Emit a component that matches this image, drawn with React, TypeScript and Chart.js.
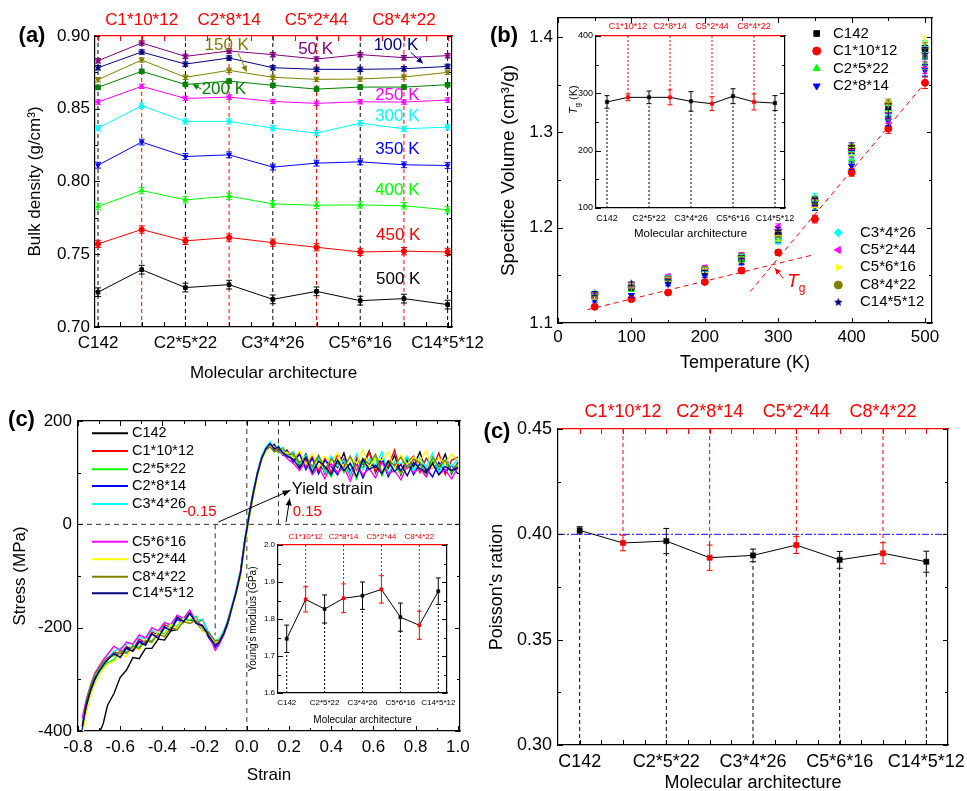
import React, { useEffect, useRef } from 'react';
import { Chart, registerables } from 'chart.js';
import { drawPoint } from 'chart.js/helpers';

Chart.register(...registerables);

const W = 967;
const H = 791;
const FONT = "'Liberation Sans', Arial, Helvetica, sans-serif";
const f = (size: number, style = '') => `${style} ${size}px ${FONT}`.trim();

const BLACK = '#000000', RED = '#ff0000', LIME = '#00ff00', GREEN = '#008000', BLUE = '#0000ff',
  CYAN = '#00ffff', MAGENTA = '#ff00ff', YELLOW = '#ffff00', OLIVE = '#808000', NAVY = '#000080',
  PURPLE = '#800080', DASH_GREY = '#333333', REF_BLUE = '#4040ff';

// ---------------- shared categories ----------------
const ARCH = ['C142', 'C1*10*12', 'C2*5*22', 'C2*8*14', 'C3*4*26', 'C5*2*44', 'C5*6*16', 'C8*4*22', 'C14*5*12'];
const ARCH_POS = [0, 1, 2, 3, 4, 5, 6, 7, 8];
const ARCH_BOTTOM = [0, 2, 4, 6, 8];
const ARCH_TOP = [1, 3, 5, 7];
const HALF_TICKS = [0, 0.5, 1, 1.5, 2, 2.5, 3, 3.5, 4, 4.5, 5, 5.5, 6, 6.5, 7, 7.5, 8];

// ---------------- (a) bulk density ----------------
const TEMP_LABELS_A = ['50 K', '100 K', '150 K', '200 K', '250 K', '300 K', '350 K', '400 K', '450 K', '500 K'];
const DENS_50K = [0.8830, 0.8952, 0.8860, 0.8897, 0.8872, 0.8842, 0.8872, 0.8851, 0.8865];
const DENS_100K = [0.8782, 0.8890, 0.8807, 0.8849, 0.8782, 0.8771, 0.8771, 0.8775, 0.8791];
const DENS_150K = [0.8700, 0.8835, 0.8716, 0.8764, 0.8716, 0.8702, 0.8704, 0.8718, 0.8750];
const DENS_200K = [0.8647, 0.8757, 0.8667, 0.8690, 0.8661, 0.8635, 0.8649, 0.8649, 0.8665];
const DENS_250K = [0.8546, 0.8654, 0.8571, 0.8580, 0.8550, 0.8537, 0.8548, 0.8546, 0.8560];
const DENS_300K = [0.8367, 0.8521, 0.8413, 0.8413, 0.8367, 0.8333, 0.8401, 0.8362, 0.8374];
const DENS_350K = [0.8112, 0.8271, 0.8172, 0.8183, 0.8099, 0.8126, 0.8135, 0.8115, 0.8110];
const DENS_400K = [0.7828, 0.7938, 0.7874, 0.7899, 0.7846, 0.7837, 0.7839, 0.7833, 0.7805];
const DENS_450K = [0.7571, 0.7670, 0.7592, 0.7615, 0.7580, 0.7548, 0.7516, 0.7521, 0.7516];
const DENS_500K = [0.7239, 0.7394, 0.7271, 0.7291, 0.7190, 0.7245, 0.7181, 0.7195, 0.7154];
const DENS_ERR = [0.0015, 0.0015, 0.0015, 0.0015, 0.0015, 0.0018, 0.002, 0.0022, 0.0025, 0.003];
const DENS_Y_TICKS = [0.70, 0.75, 0.80, 0.85, 0.90];
const DENS_Y_MINOR = [0.725, 0.775, 0.825, 0.875];

// ---------------- (b) specific volume ----------------
const TEMPS_B = [50, 100, 150, 200, 250, 300, 350, 400, 450, 500];
const SV_C142 = [1.130, 1.137, 1.147, 1.155, 1.168, 1.195, 1.228, 1.282, 1.325, 1.385];
const SV_C1_10_12 = [1.117, 1.125, 1.132, 1.143, 1.155, 1.174, 1.209, 1.258, 1.304, 1.352];
const SV_C2_5_22 = [1.128, 1.135, 1.145, 1.154, 1.167, 1.188, 1.223, 1.272, 1.318, 1.372];
const SV_C2_8_14 = [1.124, 1.129, 1.141, 1.150, 1.164, 1.187, 1.222, 1.265, 1.312, 1.365];
const SV_C3_4_26 = [1.131, 1.138, 1.148, 1.156, 1.169, 1.186, 1.232, 1.276, 1.323, 1.390];
const SV_C5_2_44 = [1.129, 1.139, 1.149, 1.158, 1.171, 1.201, 1.226, 1.278, 1.315, 1.368];
const SV_C5_6_16 = [1.127, 1.140, 1.146, 1.155, 1.166, 1.189, 1.225, 1.280, 1.327, 1.395];
const SV_C8_4_22 = [1.130, 1.138, 1.147, 1.157, 1.170, 1.193, 1.229, 1.283, 1.330, 1.388];
const SV_C14_5_12 = [1.131, 1.141, 1.144, 1.153, 1.165, 1.197, 1.227, 1.285, 1.320, 1.383];
const SV_ERR = [0.002, 0.002, 0.002, 0.002, 0.003, 0.003, 0.004, 0.004, 0.005, 0.006];
const TEMP_TICKS = [0, 100, 200, 300, 400, 500];
const TEMP_MINOR = [50, 150, 250, 350, 450];
const SV_TICKS = [1.1, 1.2, 1.3, 1.4];
const SV_MINOR = [1.15, 1.25, 1.35];
const FIT_GLASS_T = [40, 345];
const FIT_GLASS_V = [1.114, 1.171];
const FIT_RUBBER_T = [262, 500];
const FIT_RUBBER_V = [1.133, 1.352];
const TG = [285, 293, 293, 293, 286, 282, 295, 285, 283];
const TG_ERR = [11, 6, 11, 13, 17, 12, 13, 14, 13];
const TG_TICKS = [100, 200, 300, 400];
const TG_MINOR = [150, 250, 350];

// ---------------- (c) stress-strain ----------------
const STRAIN = [-0.78, -0.76, -0.74, -0.72, -0.70, -0.68, -0.66, -0.63, -0.60, -0.57, -0.54, -0.51, -0.48, -0.45, -0.42, -0.39, -0.36, -0.33, -0.30, -0.27, -0.24, -0.21, -0.18, -0.15, -0.13, -0.11, -0.09, -0.07, -0.05, -0.03, -0.01, 0.01, 0.03, 0.05, 0.07, 0.09, 0.11, 0.13, 0.15, 0.17, 0.19, 0.22, 0.25, 0.28, 0.31, 0.34, 0.37, 0.40, 0.43, 0.46, 0.49, 0.52, 0.55, 0.58, 0.61, 0.64, 0.67, 0.70, 0.73, 0.76, 0.79, 0.82, 0.85, 0.88, 0.91, 0.94, 0.97, 1.00];
const SS_C142 = [-470, -455, -440, -425, -405, -385, -350, -328, -296, -282, -258, -260, -240, -240, -222, -224, -206, -204, -184, -186, -188, -206, -212, -226, -222, -210, -186, -158, -128, -92, -30, 18, 62, 96, 130, 147, 150, 155, 140, 148, 132, 140, 112, 136, 104, 130, 98, 128, 110, 138, 96, 126, 116, 142, 100, 124, 108, 134, 96, 130, 112, 140, 102, 122, 106, 136, 98, 120];
const SS_C1_10_12 = [-400, -355, -318, -298, -282, -270, -262, -246, -252, -236, -242, -222, -230, -208, -214, -194, -200, -178, -184, -170, -192, -184, -212, -228, -224, -214, -192, -162, -130, -98, -38, 12, 58, 100, 126, 148, 158, 142, 152, 136, 144, 124, 138, 112, 132, 104, 128, 100, 136, 118, 94, 130, 108, 140, 102, 126, 112, 144, 98, 120, 132, 100, 128, 110, 138, 96, 124, 130];
const SS_C2_5_22 = [-405, -360, -325, -302, -288, -276, -268, -262, -244, -248, -234, -238, -222, -226, -208, -212, -194, -198, -180, -186, -178, -204, -208, -232, -228, -210, -188, -158, -134, -92, -32, 18, 62, 96, 128, 142, 152, 146, 138, 148, 130, 132, 116, 128, 104, 124, 110, 92, 126, 100, 118, 88, 122, 106, 130, 94, 120, 112, 98, 128, 104, 116, 92, 124, 108, 120, 100, 114];
const SS_C2_8_14 = [-398, -352, -322, -300, -284, -272, -262, -250, -256, -238, -244, -226, -230, -212, -220, -200, -204, -184, -190, -172, -190, -196, -220, -238, -230, -214, -192, -160, -128, -96, -36, 14, 60, 100, 130, 146, 154, 144, 150, 134, 142, 120, 136, 106, 128, 98, 124, 112, 96, 126, 104, 120, 90, 118, 110, 128, 92, 116, 104, 124, 96, 118, 108, 92, 120, 102, 114, 98];
const SS_C3_4_26 = [-385, -345, -318, -296, -283, -268, -258, -246, -240, -232, -230, -218, -222, -204, -212, -190, -198, -176, -184, -166, -186, -184, -210, -225, -222, -206, -186, -156, -124, -88, -30, 20, 64, 102, 132, 150, 160, 148, 152, 140, 130, 140, 118, 134, 108, 128, 100, 132, 112, 124, 96, 136, 106, 126, 114, 140, 98, 122, 116, 132, 102, 128, 110, 138, 100, 124, 112, 126];
const SS_C5_6_16 = [-375, -338, -312, -288, -275, -262, -252, -236, -244, -228, -232, -214, -220, -200, -206, -190, -194, -176, -182, -166, -190, -198, -214, -244, -232, -212, -188, -160, -128, -92, -34, 16, 60, 98, 128, 144, 156, 148, 142, 136, 128, 118, 104, 124, 96, 112, 88, 118, 100, 110, 84, 116, 96, 108, 90, 120, 98, 104, 86, 114, 100, 108, 92, 118, 96, 106, 88, 110];
const SS_C5_2_44 = [-410, -365, -332, -310, -292, -280, -270, -266, -252, -256, -238, -244, -222, -230, -208, -216, -194, -202, -182, -192, -184, -206, -214, -228, -224, -212, -190, -164, -136, -100, -42, 8, 52, 92, 124, 140, 152, 146, 150, 136, 140, 128, 142, 116, 136, 110, 132, 120, 138, 106, 130, 118, 144, 112, 128, 124, 140, 108, 134, 116, 130, 122, 142, 110, 128, 118, 136, 124];
const SS_C8_4_22 = [-390, -340, -310, -290, -278, -266, -258, -254, -246, -250, -236, -240, -225, -228, -212, -218, -200, -204, -188, -192, -186, -200, -210, -226, -224, -210, -188, -160, -132, -96, -36, 12, 56, 96, 126, 144, 150, 140, 148, 138, 134, 136, 120, 130, 112, 134, 106, 126, 118, 110, 132, 104, 128, 116, 136, 100, 124, 114, 130, 108, 126, 120, 98, 130, 112, 124, 104, 118];
const SS_C14_5_12 = [-392, -348, -320, -298, -284, -272, -262, -250, -258, -240, -246, -228, -234, -212, -220, -198, -206, -180, -188, -172, -192, -196, -216, -234, -228, -212, -190, -160, -130, -94, -34, 16, 60, 98, 128, 146, 156, 146, 150, 138, 132, 126, 108, 130, 100, 122, 112, 96, 124, 104, 118, 92, 126, 106, 114, 98, 122, 102, 116, 94, 120, 108, 100, 118, 96, 112, 104, 110];
const STRAIN_TICKS = [-0.8, -0.6, -0.4, -0.2, 0, 0.2, 0.4, 0.6, 0.8, 1.0];
const STRAIN_MINOR = [-0.7, -0.5, -0.3, -0.1, 0.1, 0.3, 0.5, 0.7, 0.9];
const STRESS_TICKS = [-400, -200, 0, 200];
const STRESS_MINOR = [-300, -100, 100];
const YM = [1.7465, 1.853, 1.827, 1.856, 1.863, 1.880, 1.805, 1.783, 1.875];
const YM_ERR = [0.037, 0.034, 0.038, 0.039, 0.037, 0.037, 0.038, 0.038, 0.036];
const YM_TICKS = [1.6, 1.7, 1.8, 1.9, 2.0];
const YM_MINOR = [1.65, 1.75, 1.85, 1.95];

// ---------------- (d) Poisson's ratio ----------------
const PR = [0.4019, 0.3959, 0.3968, 0.3889, 0.3900, 0.3949, 0.3879, 0.3910, 0.3870];
const PR_ERR = [0.0017, 0.0037, 0.006, 0.006, 0.003, 0.004, 0.004, 0.005, 0.005];
const PR_TICKS = [0.30, 0.35, 0.40, 0.45];
const PR_MINOR = [0.325, 0.375, 0.425];
const PR_REF = 0.40;

// ---------------- helpers ----------------
const pts = (xs: number[], ys: number[]) => xs.map((x, i) => ({ x, y: ys[i] }));
const archLbl = (v: number) => ARCH[Math.round(v)];
const parity = (a: string, b: string) => ARCH_POS.map((i) => (i % 2 ? b : a));

function starImg(color: string, r: number) {
  const c = document.createElement('canvas');
  const s = Math.ceil(r * 2 + 2);
  c.width = s; c.height = s;
  const g = c.getContext('2d') as CanvasRenderingContext2D;
  g.fillStyle = color;
  g.beginPath();
  for (let k = 0; k < 10; k++) {
    const a = -Math.PI / 2 + (k * Math.PI) / 5;
    const rr = k % 2 ? r * 0.45 : r;
    g.lineTo(s / 2 + rr * Math.cos(a), s / 2 + rr * Math.sin(a));
  }
  g.closePath();
  g.fill();
  return c;
}

// linear axis whose box size (boxPx) is fixed, so the plot area lands exactly where wanted
function lin(position: string, min: number, max: number, o: any = {}) {
  const has = !!o.vals;
  const box = o.box ?? 0;
  return {
    type: 'linear', position, min, max, boxPx: box,
    grid: { display: false, drawTicks: false },
    border: { display: true, color: o.border || BLACK, width: 1.2 },
    ticks: {
      display: has, autoSkip: false, maxRotation: 0, minRotation: 0,
      padding: o.pad ?? 5, color: o.color || BLACK,
      font: { family: FONT, size: o.size || 17 },
      callback: (v: number) => (o.fmt ? o.fmt(v) : String(v)),
    },
    afterBuildTicks: has ? (s: any) => { s.ticks = o.vals.map((v: number) => ({ value: v })); } : undefined,
    afterFit: (s: any) => {
      if (s.isHorizontal()) s.height = box; else s.width = box;
      s.paddingLeft = 0; s.paddingRight = 0; s.paddingTop = 0; s.paddingBottom = 0;
    },
  };
}

function posOf(chart: any, it: any): [number, number] {
  const ca = chart.chartArea;
  if (it.ax !== undefined) {
    return [ca.left + it.ax * (ca.right - ca.left) + (it.ox || 0), ca.top + it.ay * (ca.bottom - ca.top) + (it.oy || 0)];
  }
  return [chart.scales.x.getPixelForValue(it.x) + (it.ox || 0), chart.scales.y.getPixelForValue(it.y) + (it.oy || 0)];
}

function drawItems(chart: any, items: any[]) {
  const ctx = chart.ctx;
  const xs = chart.scales.x, ys = chart.scales.y;
  for (const it of items) {
    ctx.save();
    if (it.k === 'line') {
      const x0 = xs.getPixelForValue(it.x0), y0 = ys.getPixelForValue(it.y0);
      const x1 = xs.getPixelForValue(it.x1), y1 = ys.getPixelForValue(it.y1);
      ctx.strokeStyle = it.color; ctx.lineWidth = it.w || 1; ctx.setLineDash(it.dash || []);
      ctx.beginPath(); ctx.moveTo(x0, y0); ctx.lineTo(x1, y1); ctx.stroke();
      if (it.arrow) {
        const a = Math.atan2(y1 - y0, x1 - x0);
        const L = it.head || 7, hw = it.headW || 3;
        ctx.setLineDash([]); ctx.fillStyle = it.color; ctx.beginPath();
        ctx.moveTo(x1, y1);
        ctx.lineTo(x1 - L * Math.cos(a) + hw * Math.sin(a), y1 - L * Math.sin(a) - hw * Math.cos(a));
        ctx.lineTo(x1 - L * Math.cos(a) - hw * Math.sin(a), y1 - L * Math.sin(a) + hw * Math.cos(a));
        ctx.closePath(); ctx.fill();
      }
    } else if (it.k === 'text') {
      const [x, y] = posOf(chart, it);
      ctx.translate(x, y);
      if (it.rot) ctx.rotate((it.rot * Math.PI) / 180);
      ctx.font = it.font; ctx.fillStyle = it.color || BLACK;
      ctx.textAlign = it.align || 'center'; ctx.textBaseline = it.base || 'middle';
      ctx.fillText(it.s, 0, 0);
    } else if (it.k === 'rich') {
      const [x, y] = posOf(chart, it);
      ctx.translate(x, y);
      if (it.rot) ctx.rotate((it.rot * Math.PI) / 180);
      ctx.fillStyle = it.color || BLACK; ctx.textAlign = 'left'; ctx.textBaseline = 'alphabetic';
      let total = 0;
      for (const sg of it.segs) { ctx.font = sg.font; total += ctx.measureText(sg.s).width; }
      let cx = it.align === 'left' ? 0 : -total / 2;
      for (const sg of it.segs) {
        ctx.font = sg.font;
        ctx.fillText(sg.s, cx, (it.bl || 0) + (sg.dy || 0));
        cx += ctx.measureText(sg.s).width;
      }
    } else if (it.k === 'legLine') {
      const [x, y] = posOf(chart, it);
      ctx.strokeStyle = it.color; ctx.lineWidth = it.w || 2;
      ctx.beginPath(); ctx.moveTo(x, y); ctx.lineTo(x + it.len, y); ctx.stroke();
      ctx.font = it.font; ctx.fillStyle = BLACK; ctx.textAlign = 'left'; ctx.textBaseline = 'middle';
      ctx.fillText(it.s, x + it.len + it.gap, y);
    } else if (it.k === 'legPt') {
      const [x, y] = posOf(chart, it);
      ctx.fillStyle = it.color; ctx.strokeStyle = it.color; ctx.lineWidth = 1;
      drawPoint(ctx, { pointStyle: it.ps, rotation: it.rot || 0, radius: it.r, borderWidth: 1 } as any, x, y);
      ctx.font = it.font; ctx.fillStyle = BLACK; ctx.textAlign = 'left'; ctx.textBaseline = 'middle';
      ctx.fillText(it.s, x + it.tx, y);
    }
    ctx.restore();
  }
}

function drawErrBars(chart: any) {
  const ctx = chart.ctx;
  chart.data.datasets.forEach((ds: any, di: number) => {
    const eb = ds.errorBars;
    if (!eb) return;
    const meta = chart.getDatasetMeta(di);
    const xs = chart.scales[meta.xAxisID], ys = chart.scales[meta.yAxisID];
    ctx.save();
    ds.data.forEach((p: any, i: number) => {
      const e = Array.isArray(eb.values) ? eb.values[i] : eb.values;
      const col = Array.isArray(eb.color) ? eb.color[i] : eb.color;
      const x = xs.getPixelForValue(p.x);
      const y0 = ys.getPixelForValue(p.y - e), y1 = ys.getPixelForValue(p.y + e);
      ctx.strokeStyle = col; ctx.lineWidth = eb.width || 1;
      ctx.beginPath();
      ctx.moveTo(x, y0); ctx.lineTo(x, y1);
      ctx.moveTo(x - eb.cap, y0); ctx.lineTo(x + eb.cap, y0);
      ctx.moveTo(x - eb.cap, y1); ctx.lineTo(x + eb.cap, y1);
      ctx.stroke();
    });
    ctx.restore();
  });
}

function drawTicks(chart: any, t: any) {
  const { ctx, chartArea: ca } = chart;
  const xs = chart.scales.x, ys = chart.scales.y;
  ctx.save();
  ctx.lineWidth = 1;
  const xsets: [number[], number][] = [[t.xMaj || [], 5], [t.xMin || [], 3]];
  for (const [vals, len] of xsets) {
    for (const v of vals) {
      const px = Math.round(xs.getPixelForValue(v)) + 0.5;
      ctx.strokeStyle = t.bottom || BLACK;
      ctx.beginPath(); ctx.moveTo(px, ca.bottom); ctx.lineTo(px, ca.bottom - len); ctx.stroke();
      ctx.strokeStyle = t.top || BLACK;
      ctx.beginPath(); ctx.moveTo(px, ca.top); ctx.lineTo(px, ca.top + len); ctx.stroke();
    }
  }
  const ysets: [number[], number][] = [[t.yMaj || [], 5], [t.yMin || [], 3]];
  for (const [vals, len] of ysets) {
    for (const v of vals) {
      const py = Math.round(ys.getPixelForValue(v)) + 0.5;
      ctx.strokeStyle = BLACK;
      ctx.beginPath(); ctx.moveTo(ca.left, py); ctx.lineTo(ca.left + len, py); ctx.stroke();
      ctx.beginPath(); ctx.moveTo(ca.right, py); ctx.lineTo(ca.right - len, py); ctx.stroke();
    }
  }
  ctx.restore();
}

function decor(spec: any) {
  return {
    id: 'decor',
    beforeDraw(chart: any) {
      if (spec.fill) {
        const ca = chart.chartArea;
        chart.ctx.save();
        chart.ctx.fillStyle = spec.fill;
        chart.ctx.fillRect(ca.left, ca.top, ca.right - ca.left, ca.bottom - ca.top);
        chart.ctx.restore();
      }
    },
    beforeDatasetsDraw(chart: any) { drawItems(chart, spec.under || []); },
    afterDatasetsDraw(chart: any) {
      drawErrBars(chart);
      drawItems(chart, spec.over || []);
      if (spec.ticks) drawTicks(chart, spec.ticks);
    },
  };
}

function config(area: number[], datasets: any[], scales: any, spec: any) {
  const [L, T, R, B] = area;
  const bx = (s: any) => (s && s.boxPx) || 0;
  return {
    type: 'line',
    data: { datasets },
    options: {
      responsive: false, animation: false, events: [],
      layout: {
        padding: { left: L - bx(scales.y), top: T - bx(scales.x2), right: W - R - bx(scales.y2), bottom: H - B - bx(scales.x) },
        autoPadding: false,
      },
      plugins: { legend: { display: false }, tooltip: { enabled: false } },
      elements: { line: { tension: 0 } },
      scales,
    },
    plugins: [decor(spec)],
  };
}

function archDecor(vals: number[], errs: number[], yMin: number, yMax: number, dash: number[]) {
  return ARCH_POS.map((i) => (i % 2
    ? { k: 'line', x0: i, y0: yMax, x1: i, y1: vals[i] + errs[i], color: RED, dash }
    : { k: 'line', x0: i, y0: yMin, x1: i, y1: vals[i] - errs[i], color: BLACK, dash }));
}

function archDataset(vals: number[], errs: number[], r: number, cap: number) {
  return {
    data: pts(ARCH_POS, vals),
    borderColor: BLACK, borderWidth: 1,
    pointStyle: 'rect', pointRadius: r,
    pointBackgroundColor: parity(BLACK, RED), pointBorderColor: parity(BLACK, RED), pointBorderWidth: 0.5,
    errorBars: { values: errs, color: parity(BLACK, RED), cap },
  };
}

// ---------------- panel (a) ----------------
function makeA() {
  const area = [95, 36, 452, 327];
  const xMin = -0.069, xMax = 8.1;
  const yMin = DENS_Y_TICKS[0], yMax = DENS_Y_TICKS[DENS_Y_TICKS.length - 1];
  const styles = [
    { d: DENS_50K, c: PURPLE, ps: starImg(PURPLE, 4) },
    { d: DENS_100K, c: NAVY, ps: starImg(NAVY, 4) },
    { d: DENS_150K, c: OLIVE, ps: 'triangle', rot: 180 },
    { d: DENS_200K, c: GREEN, ps: 'circle' },
    { d: DENS_250K, c: MAGENTA, ps: 'triangle', rot: -90 },
    { d: DENS_300K, c: CYAN, ps: 'rectRot' },
    { d: DENS_350K, c: BLUE, ps: 'triangle', rot: 180 },
    { d: DENS_400K, c: LIME, ps: 'triangle' },
    { d: DENS_450K, c: RED, ps: 'circle' },
    { d: DENS_500K, c: BLACK, ps: 'rect' },
  ];
  const datasets = styles.map((s: any, k) => ({
    label: TEMP_LABELS_A[k],
    data: pts(ARCH_POS, s.d),
    borderColor: s.c, backgroundColor: s.c, borderWidth: 1,
    pointStyle: s.ps, pointRotation: s.rot || 0, pointRadius: 2.6, pointBorderWidth: 1,
    errorBars: { values: DENS_ERR[k], color: s.c, cap: 3 },
  }));
  const under = ARCH_POS.map((i) => ({ k: 'line', x0: i, y0: yMin, x1: i, y1: yMax, color: i % 2 ? RED : BLACK, dash: [4, 3] }));
  const lf = f(17);
  const over = [
    { k: 'text', x: 4.98, y: 0.8911, s: TEMP_LABELS_A[0], color: PURPLE, font: lf },
    { k: 'text', x: 6.82, y: 0.8933, s: TEMP_LABELS_A[1], color: NAVY, font: lf },
    { k: 'text', x: 2.945, y: 0.8933, s: TEMP_LABELS_A[2], color: OLIVE, font: lf },
    { k: 'text', x: 2.88, y: 0.8634, s: TEMP_LABELS_A[3], color: GREEN, font: lf },
    { k: 'text', x: 6.85, y: 0.859, s: TEMP_LABELS_A[4], color: MAGENTA, font: lf },
    { k: 'text', x: 6.85, y: 0.8445, s: TEMP_LABELS_A[5], color: CYAN, font: lf },
    { k: 'text', x: 6.85, y: 0.8223, s: TEMP_LABELS_A[6], color: BLUE, font: lf },
    { k: 'text', x: 6.85, y: 0.7937, s: TEMP_LABELS_A[7], color: LIME, font: lf },
    { k: 'text', x: 6.87, y: 0.7632, s: TEMP_LABELS_A[8], color: RED, font: lf },
    { k: 'text', x: 6.87, y: 0.7328, s: TEMP_LABELS_A[9], color: BLACK, font: lf },
    { k: 'line', x0: 3.21, y0: 0.8881, x1: 3.40, y1: 0.8755, color: OLIVE, arrow: true, head: 6 },
    { k: 'line', x0: 2.37, y0: 0.8634, x1: 2.166, y1: 0.8668, color: GREEN, arrow: true, head: 6 },
    { k: 'line', x0: 7.155, y0: 0.8888, x1: 7.43, y1: 0.8812, color: NAVY, arrow: true, head: 6 },
    { k: 'text', ax: 0.5, ay: 1, oy: 46, s: 'Molecular architecture', font: f(17) },
    { k: 'text', ax: 0, ay: 0.5, ox: -60, s: 'Bulk density (g/cm³)', font: f(17), rot: -90 },
    { k: 'text', ax: 0, ay: 0, ox: -63, oy: 0, s: '(a)', font: f(22, 'bold') },
  ];
  const scales = {
    x: lin('bottom', xMin, xMax, { vals: ARCH_BOTTOM, fmt: archLbl, size: 17, pad: 6, box: 28 }),
    x2: lin('top', xMin, xMax, { vals: ARCH_TOP, fmt: archLbl, size: 17, pad: 5, color: RED, border: RED, box: 28 }),
    y: lin('left', yMin, yMax, { vals: DENS_Y_TICKS, fmt: (v: number) => v.toFixed(2), size: 17, pad: 5, box: 60 }),
    y2: lin('right', yMin, yMax),
  };
  return config(area, datasets, scales, {
    under, over,
    ticks: { xMaj: HALF_TICKS, yMaj: DENS_Y_TICKS, yMin: DENS_Y_MINOR, top: RED },
  });
}

// ---------------- panel (b) ----------------
function makeB() {
  const area = [558, 18, 932, 323];
  const star = starImg(NAVY, 4.5);
  const styles = [
    { s: ARCH[0], d: SV_C142, c: BLACK, ps: 'rect' },
    { s: ARCH[1], d: SV_C1_10_12, c: RED, ps: 'circle' },
    { s: ARCH[2], d: SV_C2_5_22, c: LIME, ps: 'triangle' },
    { s: ARCH[3], d: SV_C2_8_14, c: BLUE, ps: 'triangle', rot: 180 },
    { s: ARCH[4], d: SV_C3_4_26, c: CYAN, ps: 'rectRot' },
    { s: ARCH[5], d: SV_C5_2_44, c: MAGENTA, ps: 'triangle', rot: -90 },
    { s: ARCH[6], d: SV_C5_6_16, c: YELLOW, ps: 'triangle', rot: 90 },
    { s: ARCH[7], d: SV_C8_4_22, c: OLIVE, ps: 'circle' },
    { s: ARCH[8], d: SV_C14_5_12, c: NAVY, ps: star },
  ];
  const datasets = styles.map((s: any) => ({
    label: s.s, data: pts(TEMPS_B, s.d), showLine: false,
    borderColor: s.c, backgroundColor: s.c, pointStyle: s.ps, pointRotation: s.rot || 0,
    pointRadius: 3.5, pointBorderWidth: 1,
    errorBars: { values: SV_ERR, color: s.c, cap: 3 },
  }));
  const under = [
    { k: 'line', x0: FIT_GLASS_T[0], y0: FIT_GLASS_V[0], x1: FIT_GLASS_T[1], y1: FIT_GLASS_V[1], color: RED, dash: [5, 4] },
    { k: 'line', x0: FIT_RUBBER_T[0], y0: FIT_RUBBER_V[0], x1: FIT_RUBBER_T[1], y1: FIT_RUBBER_V[1], color: RED, dash: [5, 4] },
  ];
  const legFont = f(15);
  const over: any[] = [
    { k: 'rich', x: 312, y: 1.1451, align: 'left', bl: 7, color: RED, segs: [{ s: 'T', font: f(19, 'italic') }, { s: 'g', font: f(12), dy: 5 }] },
    { k: 'line', x0: 306.9, y0: 1.1469, x1: 295.6, y1: 1.1574, color: RED, arrow: true, head: 6 },
    { k: 'text', ax: 0.5, ay: 1, oy: 40, s: 'Temperature (K)', font: f(18) },
    { k: 'text', ax: 0, ay: 0.5, ox: -49, s: 'Specifice Volume (cm³/g)', font: f(19), rot: -90 },
    { k: 'text', ax: 0, ay: 0, ox: -54, oy: 18, s: '(b)', font: f(22, 'bold') },
  ];
  const g1 = [15.5, 33, 50.5, 68];
  const g2 = [214.7, 232, 249.3, 267, 284.3];
  styles.forEach((s: any, k) => {
    if (k < 4) over.push({ k: 'legPt', ax: 0, ay: 0, ox: 258.7, oy: g1[k], color: s.c, ps: s.ps, rot: s.rot || 0, r: 4, s: s.s, tx: 16.3, font: legFont });
    else over.push({ k: 'legPt', ax: 0, ay: 0, ox: 280.3, oy: g2[k - 4], color: s.c, ps: s.ps, rot: s.rot || 0, r: 4, s: s.s, tx: 21.7, font: legFont });
  });
  const scales = {
    x: lin('bottom', 0, 509.5, { vals: TEMP_TICKS, size: 17, pad: 4, box: 28 }),
    x2: lin('top', 0, 509.5),
    y: lin('left', 1.1, 1.42, { vals: SV_TICKS, fmt: (v: number) => v.toFixed(1), size: 17, pad: 5, box: 45 }),
    y2: lin('right', 1.1, 1.42),
  };
  return config(area, datasets, scales, {
    under, over,
    ticks: { xMaj: TEMP_TICKS, xMin: TEMP_MINOR, yMaj: SV_TICKS, yMin: SV_MINOR },
  });
}

function makeBInset() {
  const area = [596, 36, 785, 208];
  const xMin = -0.524, xMax = 8.476, yMin = TG_TICKS[0], yMax = TG_TICKS[TG_TICKS.length - 1];
  const datasets = [archDataset(TG, TG_ERR, 2.4, 2.5)];
  const over = [
    { k: 'text', ax: 0.5, ay: 1, oy: 26, s: 'Molecular architecture', font: f(11.5) },
    { k: 'rich', ax: 0, ay: 0.37, ox: -23, rot: -90, bl: 4, segs: [{ s: 'T', font: f(11, 'italic') }, { s: 'g', font: f(7.5), dy: 3 }, { s: ' (K)', font: f(11) }] },
  ];
  const scales = {
    x: lin('bottom', xMin, xMax, { vals: ARCH_BOTTOM, fmt: archLbl, size: 9, pad: 5, box: 17 }),
    x2: lin('top', xMin, xMax, { vals: ARCH_TOP, fmt: archLbl, size: 9, pad: 4, color: RED, border: RED, box: 16 }),
    y: lin('left', yMin, yMax, { vals: TG_TICKS, size: 9, pad: 3, box: 25 }),
    y2: lin('right', yMin, yMax),
  };
  return config(area, datasets, scales, {
    fill: '#ffffff',
    under: archDecor(TG, TG_ERR, yMin, yMax, [2, 2]),
    over,
    ticks: { yMaj: TG_TICKS, yMin: TG_MINOR, top: RED },
  });
}

// ---------------- panel (c) stress-strain ----------------
function makeC() {
  const area = [78, 421, 460, 731];
  const series = [
    { s: ARCH[0], d: SS_C142, c: BLACK },
    { s: ARCH[1], d: SS_C1_10_12, c: RED },
    { s: ARCH[2], d: SS_C2_5_22, c: LIME },
    { s: ARCH[3], d: SS_C2_8_14, c: BLUE },
    { s: ARCH[4], d: SS_C3_4_26, c: CYAN },
    { s: ARCH[6], d: SS_C5_6_16, c: MAGENTA },
    { s: ARCH[5], d: SS_C5_2_44, c: YELLOW },
    { s: ARCH[7], d: SS_C8_4_22, c: OLIVE },
    { s: ARCH[8], d: SS_C14_5_12, c: NAVY },
  ];
  const datasets = series.map((s, k) => ({
    label: s.s, data: pts(STRAIN, s.d), borderColor: s.c, backgroundColor: s.c,
    borderWidth: 1.4, pointRadius: 0, order: series.length - k,
  }));
  const yMin = STRESS_TICKS[0], yMax = STRESS_TICKS[STRESS_TICKS.length - 1];
  const xMin = STRAIN_TICKS[0], xMax = 1.01;
  const under = [
    { k: 'line', x0: xMin, y0: 0, x1: xMax, y1: 0, color: DASH_GREY, dash: [5, 4] },
    { k: 'line', x0: 0, y0: yMin, x1: 0, y1: yMax, color: DASH_GREY, dash: [5, 4] },
    { k: 'line', x0: 0.15, y0: 0, x1: 0.15, y1: yMax, color: DASH_GREY, dash: [5, 4] },
    { k: 'line', x0: -0.15, y0: 0, x1: -0.15, y1: -215, color: DASH_GREY, dash: [5, 4] },
  ];
  const legFont = f(14.5);
  const ys1 = [12.3, 30, 48.3, 65, 83, 120.7, 138.3, 155.7, 172.3];
  const over: any[] = [
    { k: 'line', x0: -0.135, y0: 4.4, x1: 0.207, y1: 66, color: BLACK, arrow: true, head: 8 },
    { k: 'line', x0: 0.186, y0: 4.4, x1: 0.203, y1: 50, color: BLACK, arrow: true, head: 7 },
    { k: 'text', x: 0.213, y: 68, s: 'Yield strain', align: 'left', font: f(16.5) },
    { k: 'text', x: -0.143, y: 25, s: '-0.15', align: 'right', color: RED, font: f(15) },
    { k: 'text', x: 0.2175, y: 25, s: '0.15', align: 'left', color: RED, font: f(15) },
    { k: 'text', ax: 0.5, ay: 1, oy: 44, s: 'Strain', font: f(17) },
    { k: 'text', ax: 0, ay: 0.5, ox: -58, s: 'Stress (MPa)', font: f(17), rot: -90 },
    { k: 'text', ax: 0, ay: 0, ox: -56.5, oy: -1, s: '(c)', font: f(22, 'bold') },
  ];
  series.forEach((s, k) => over.push({ k: 'legLine', ax: 0, ay: 0, ox: 14, oy: ys1[k], color: s.c, len: 36, gap: 4, s: s.s, font: legFont, w: 2 }));
  const scales = {
    x: lin('bottom', xMin, xMax, { vals: STRAIN_TICKS, fmt: (v: number) => v.toFixed(1), size: 17, pad: 6, box: 28 }),
    x2: lin('top', xMin, xMax),
    y: lin('left', yMin, yMax, { vals: STRESS_TICKS, size: 17, pad: 6, box: 55 }),
    y2: lin('right', yMin, yMax),
  };
  return config(area, datasets, scales, {
    under, over,
    ticks: { xMaj: STRAIN_TICKS, xMin: STRAIN_MINOR, yMaj: STRESS_TICKS, yMin: STRESS_MINOR },
  });
}

function makeCInset() {
  const area = [278, 545, 447, 693];
  const xMin = -0.46, xMax = 8.46, yMin = YM_TICKS[0], yMax = YM_TICKS[YM_TICKS.length - 1];
  const datasets = [archDataset(YM, YM_ERR, 2.2, 2.5)];
  const over = [
    { k: 'text', ax: 0.5, ay: 1, oy: 27, s: 'Molecular architecture', font: f(10) },
    { k: 'text', ax: 0, ay: 0.5, ox: -25, s: "Young's modulus (GPa)", font: f(10), rot: -90 },
  ];
  const scales = {
    x: lin('bottom', xMin, xMax, { vals: ARCH_BOTTOM, fmt: archLbl, size: 8, pad: 5, box: 16 }),
    x2: lin('top', xMin, xMax, { vals: ARCH_TOP, fmt: archLbl, size: 8, pad: 3, color: RED, border: RED, box: 14 }),
    y: lin('left', yMin, yMax, { vals: YM_TICKS, fmt: (v: number) => v.toFixed(1), size: 8, pad: 3, box: 20 }),
    y2: lin('right', yMin, yMax),
  };
  return config(area, datasets, scales, {
    fill: '#ffffff',
    under: archDecor(YM, YM_ERR, yMin, yMax, [2, 2]),
    over,
    ticks: { yMaj: YM_TICKS, yMin: YM_MINOR, top: RED },
  });
}

// ---------------- panel (d) Poisson ----------------
function makeD() {
  const area = [558, 429, 948, 745];
  const xMin = -0.5, xMax = 8.5, yMin = PR_TICKS[0], yMax = PR_TICKS[PR_TICKS.length - 1];
  const datasets = [archDataset(PR, PR_ERR, 3.7, 3)];
  const under = [
    { k: 'line', x0: xMin, y0: PR_REF, x1: xMax, y1: PR_REF, color: REF_BLUE, dash: [7, 2, 2, 2], w: 1.3 },
    ...archDecor(PR, PR_ERR, yMin, yMax, [4, 3]),
  ];
  const over = [
    { k: 'text', ax: 0.5, ay: 1, oy: 38, s: 'Molecular architecture', font: f(18) },
    { k: 'text', ax: 0, ay: 0.5, ox: -61, s: "Poisson's ration", font: f(18), rot: -90 },
    { k: 'text', ax: 0, ay: 0, ox: -61, oy: 3, s: '(c)', font: f(22, 'bold') },
  ];
  const scales = {
    x: lin('bottom', xMin, xMax, { vals: ARCH_BOTTOM, fmt: archLbl, size: 18, pad: 6, box: 30 }),
    x2: lin('top', xMin, xMax, { vals: ARCH_TOP, fmt: archLbl, size: 18, pad: 6, color: RED, border: RED, box: 30 }),
    y: lin('left', yMin, yMax, { vals: PR_TICKS, fmt: (v: number) => v.toFixed(2), size: 18, pad: 6, box: 55 }),
    y2: lin('right', yMin, yMax),
  };
  return config(area, datasets, scales, {
    under, over,
    ticks: { xMaj: HALF_TICKS, yMaj: PR_TICKS, yMin: PR_MINOR, top: RED },
  });
}

function Layer({ build }: { build: () => any }) {
  const ref = useRef<HTMLCanvasElement | null>(null);
  useEffect(() => {
    const chart = new Chart(ref.current as HTMLCanvasElement, build() as any);
    return () => chart.destroy();
  }, [build]);
  return (
    <canvas
      ref={ref}
      width={W}
      height={H}
      style={{ position: 'absolute', left: 0, top: 0, width: W, height: H }}
    />
  );
}

export default function App() {
  return (
    <div style={{ position: 'absolute', left: 0, top: 0, width: W, height: H, background: '#ffffff', overflow: 'hidden' }}>
      <Layer build={makeA} />
      <Layer build={makeB} />
      <Layer build={makeC} />
      <Layer build={makeD} />
      <Layer build={makeBInset} />
      <Layer build={makeCInset} />
    </div>
  );
}
